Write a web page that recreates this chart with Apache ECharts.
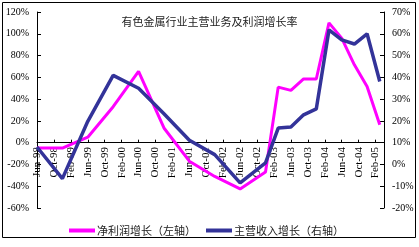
<!DOCTYPE html>
<html><head><meta charset="utf-8">
<script src="https://cdn.jsdelivr.net/npm/echarts@6/dist/echarts.min.js"></script>
<style>html,body{margin:0;padding:0;background:#fff}#c{width:419px;height:247px}</style>
</head><body><div id="c"></div>
<script>
const categories = [
 'Jun-98','Jul-98','Aug-98','Sep-98','Oct-98','Nov-98','Dec-98',
 'Jan-99','Feb-99','Mar-99','Apr-99','May-99','Jun-99','Jul-99','Aug-99','Sep-99','Oct-99','Nov-99','Dec-99',
 'Jan-00','Feb-00','Mar-00','Apr-00','May-00','Jun-00','Jul-00','Aug-00','Sep-00','Oct-00','Nov-00','Dec-00',
 'Jan-01','Feb-01','Mar-01','Apr-01','May-01','Jun-01','Jul-01','Aug-01','Sep-01','Oct-01','Nov-01','Dec-01',
 'Jan-02','Feb-02','Mar-02','Apr-02','May-02','Jun-02','Jul-02','Aug-02','Sep-02','Oct-02','Nov-02','Dec-02',
 'Jan-03','Feb-03','Mar-03','Apr-03','May-03','Jun-03','Jul-03','Aug-03','Sep-03','Oct-03','Nov-03','Dec-03',
 'Jan-04','Feb-04','Mar-04','Apr-04','May-04','Jun-04','Jul-04','Aug-04','Sep-04','Oct-04','Nov-04','Dec-04',
 'Jan-05','Feb-05','Mar-05','Apr-05'
];
const pointDates = ['Jun-98','Dec-98','Jun-99','Dec-99','Jun-00','Dec-00','Jun-01','Dec-01','Jun-02','Dec-02',
 'Mar-03','Jun-03','Sep-03','Dec-03','Mar-04','Jun-04','Sep-04','Dec-04','Mar-05'];
const netProfitGrowth = [-5,-5,5,33,65.5,13.5,-17,-31,-42.5,-27,51,48,58.5,58.5,110,96,71.5,51.5,16.5];
const revenueGrowth = [8,-6.5,19.8,40.9,35,23.3,11.1,4.5,-8.5,0.7,16.7,17.2,22.8,25.5,61.8,57.2,55.3,60,38.1];
const leftTicks = {min:-60, max:120, interval:20};
const rightTicks = {min:-20, max:70, interval:10};
const titleText = '有色金属行业主营业务及利润增长率';
const seriesNames = ['净利润增长（左轴）','主营收入增长（右轴）'];

const chart = echarts.init(document.getElementById('c'), null, {renderer:'canvas'});
const serif = '"Liberation Serif","DejaVu Serif",serif';
const cjk = '"Noto Sans CJK SC","Noto Sans",sans-serif';
chart.setOption({
  animation:false,
  backgroundColor:'#fff',
  title:{text:titleText, left:'center', top:11, textStyle:{fontFamily:cjk, fontSize:11, fontWeight:'normal', color:'#222'}},
  legend:{
    left:64, top:220, itemWidth:26, itemHeight:4, itemGap:10, icon:'rect',
    textStyle:{fontFamily:cjk, fontSize:11, color:'#222', padding:[0,0,0,-3]},
    data:seriesNames
  },
  grid:{left:37, right:35, top:12, bottom:39},
  xAxis:{
    type:'category', data:categories, boundaryGap:false,
    axisLine:{onZero:true, onZeroAxisIndex:0, lineStyle:{color:'#000', width:1}},
    axisTick:{inside:true, length:3, interval:3, lineStyle:{color:'#000'}},
    axisLabel:{interval:3, rotate:90, margin:-61, fontFamily:serif, fontSize:11, color:'#000'},
    splitLine:{show:false}
  },
  yAxis:[
    {type:'value', min:leftTicks.min, max:leftTicks.max, interval:leftTicks.interval, position:'left',
     axisLine:{show:true, lineStyle:{color:'#000'}},
     axisTick:{show:true, inside:true, length:4, lineStyle:{color:'#000'}},
     axisLabel:{formatter:'{value}%', margin:8, fontFamily:serif, fontSize:10, color:'#000'},
     splitLine:{show:false}},
    {type:'value', min:rightTicks.min, max:rightTicks.max, interval:rightTicks.interval, position:'right',
     axisLine:{show:true, lineStyle:{color:'#000'}},
     axisTick:{show:true, inside:true, length:4, lineStyle:{color:'#000'}},
     axisLabel:{formatter:'{value}%', margin:8, fontFamily:serif, fontSize:10, color:'#000'},
     splitLine:{show:false}}
  ],
  series:[
    {name:seriesNames[0], type:'line', yAxisIndex:0, symbol:'none', connectNulls:true,
     lineStyle:{color:'#ff00ff', width:3}, itemStyle:{color:'#ff00ff'},
     data:pointDates.map((d,i)=>[d, netProfitGrowth[i]])},
    {name:seriesNames[1], type:'line', yAxisIndex:1, symbol:'none', connectNulls:true,
     lineStyle:{color:'#333399', width:3.5}, itemStyle:{color:'#333399'},
     data:pointDates.map((d,i)=>[d, revenueGrowth[i]])}
  ],
  graphic:[{type:'rect', shape:{x:2.5, y:2.5, width:413, height:235}, style:{fill:'none', stroke:'#000', lineWidth:1}, silent:true, z:100}]
});
</script></body></html>
